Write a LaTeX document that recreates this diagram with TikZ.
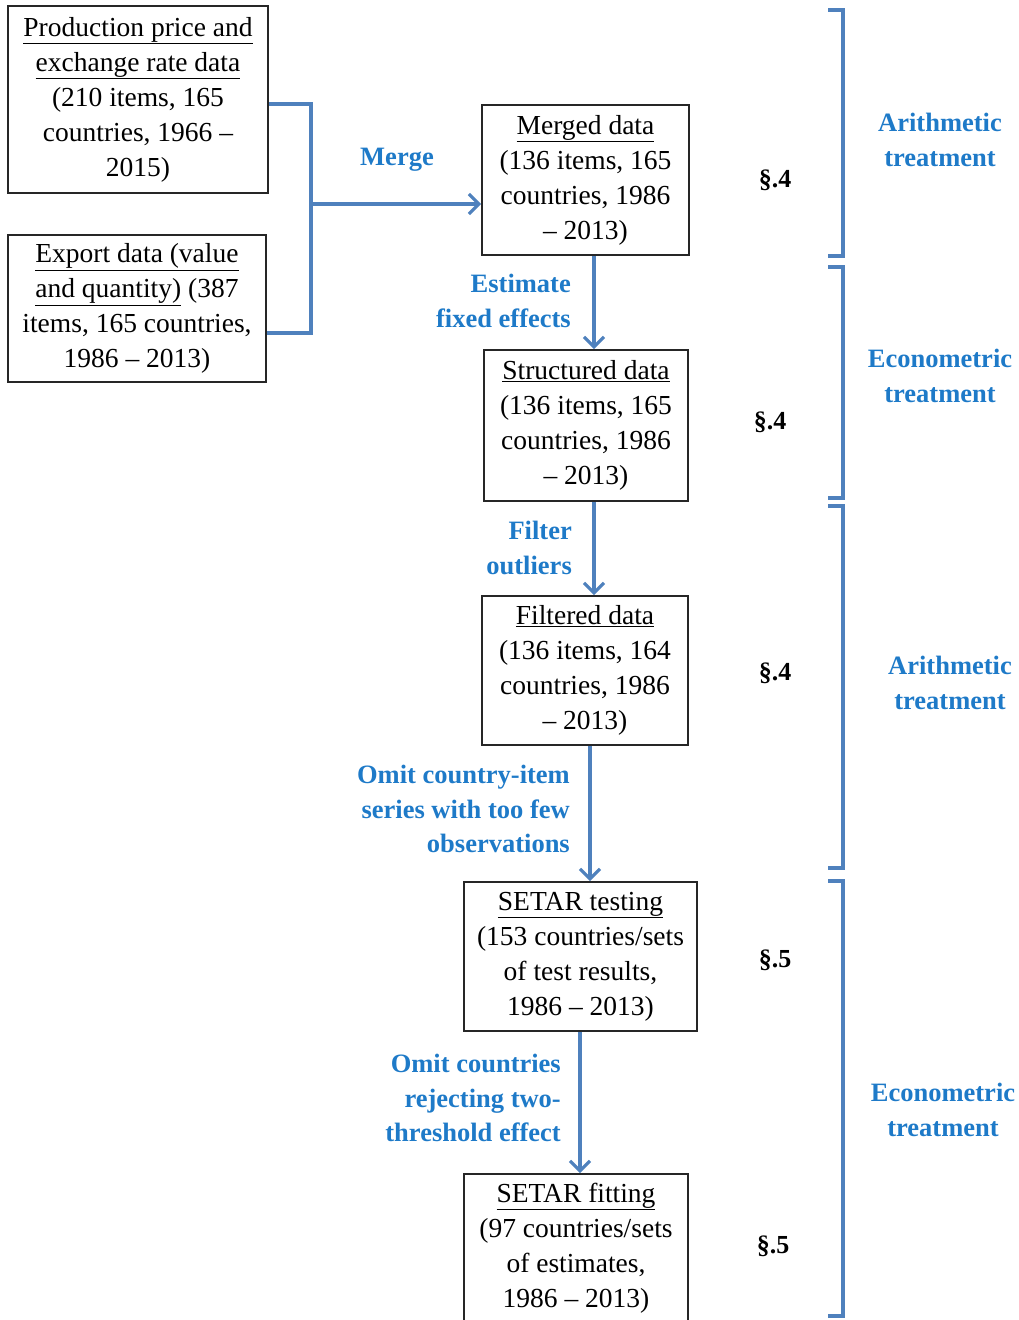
\documentclass[tikz,border=0pt]{standalone}
\usepackage{fontspec}
\setmainfont{Liberation Serif}
\usetikzlibrary{arrows.meta,calc}
\definecolor{lineblue}{RGB}{79,129,189}
\definecolor{txtblue}{RGB}{30,122,200}
\begin{document}
\begin{tikzpicture}[x=1pt,y=-1pt,
 box/.style={draw=black!85, line width=1.6pt, align=center, font=\fontsize{27.5}{35}\selectfont, inner sep=0pt},
 lbl/.style={text=txtblue, font=\fontsize{26.5}{34.5}\selectfont\bfseries, inner sep=0pt},
 sec/.style={font=\fontsize{26}{34}\selectfont\bfseries, inner sep=0pt},
 conn/.style={draw=lineblue, line width=3.2pt},
 arr/.style={conn, -{Straight Barb[length=10pt,width=20pt,line width=3.2pt]}},
 brk/.style={draw=lineblue, line width=3.2pt}]
\useasboundingbox (0,0) rectangle (1019,1320);

% boxes
\node[box, minimum width=260, minimum height=187] (b1) at (138,99.5)
 {\underline{Production price and}\\\underline{exchange rate data}\\(210 items, 165\\countries, 1966 --\\2015)};
\node[box, minimum width=258, minimum height=147] (b2) at (137,308.5)
 {\underline{Export data (value}\\\underline{and quantity)} (387\\items, 165 countries,\\1986 -- 2013)};
\node[box, minimum width=207, minimum height=150] (m) at (585.5,180)
 {\underline{Merged data}\\(136 items, 165\\countries, 1986\\-- 2013)};
\node[box, minimum width=204, minimum height=151] (s) at (586,425.5)
 {\underline{Structured data}\\(136 items, 165\\countries, 1986\\-- 2013)};
\node[box, minimum width=206, minimum height=149] (f) at (585,670.5)
 {\underline{Filtered data}\\(136 items, 164\\countries, 1986\\-- 2013)};
\node[box, minimum width=233, minimum height=149] (t) at (580.5,956.5)
 {\underline{SETAR testing}\\(153 countries/sets\\of test results,\\1986 -- 2013)};
\node[box, minimum width=224, minimum height=148] (g) at (576,1248)
 {\underline{SETAR fitting}\\(97 countries/sets\\of estimates,\\1986 -- 2013)};

% merge connectors
\coordinate (j) at (311,204);
\draw[conn] ($(b1.east)+(0,4.5)$) -| (j);
\draw[conn] ($(b2.east)+(0,24.5)$) -| (j);
\draw[arr] (j) -- (j -| m.west);

% vertical arrows
\coordinate (a1) at (594,0);
\coordinate (a2) at (594,0);
\coordinate (a3) at (590,0);
\coordinate (a4) at (580,0);
\draw[arr] (m.south -| a1) -- (s.north -| a1);
\draw[arr] (s.south -| a2) -- (f.north -| a2);
\draw[arr] (f.south -| a3) -- (t.north -| a3);
\draw[arr] (t.south -| a4) -- (g.north -| a4);

% blue labels
\node[lbl] (lmerge) at (397,160) {Merge};
\node[lbl, align=right, anchor=east] (lest) at (571,301) {Estimate\\fixed effects};
\node[lbl, align=right, anchor=east] (lfil) at (572,548) {Filter\\outliers};
\node[lbl, align=right, anchor=east] (lom1) at (570,809) {Omit country-item\\series with too few\\observations};
\node[lbl, align=right, anchor=east] (lom2) at (561,1098) {Omit countries\\rejecting two-\\threshold effect};

% section labels
\node[sec] (s1) at (775,180) {§.4};
\node[sec] (s2) at (770,422) {§.4};
\node[sec] (s3) at (775,673) {§.4};
\node[sec] (s4) at (775,960) {§.5};
\node[sec] (s5) at (773,1246) {§.5};

% brackets
\draw[brk] (828,10) -- (843,10) -- (843,256) -- (828,256);
\draw[brk] (828,267) -- (843,267) -- (843,498) -- (828,498);
\draw[brk] (828,506) -- (843,506) -- (843,868) -- (828,868);
\draw[brk] (828,881) -- (843,881) -- (843,1316) -- (828,1316);

% bracket labels
\node[lbl, align=center] (r1) at (940,140) {Arithmetic\\treatment};
\node[lbl, align=center] (r2) at (940,376) {Econometric\\treatment};
\node[lbl, align=center] (r3) at (950,683) {Arithmetic\\treatment};
\node[lbl, align=center] (r4) at (943,1110) {Econometric\\treatment};
\end{tikzpicture}
\end{document}
